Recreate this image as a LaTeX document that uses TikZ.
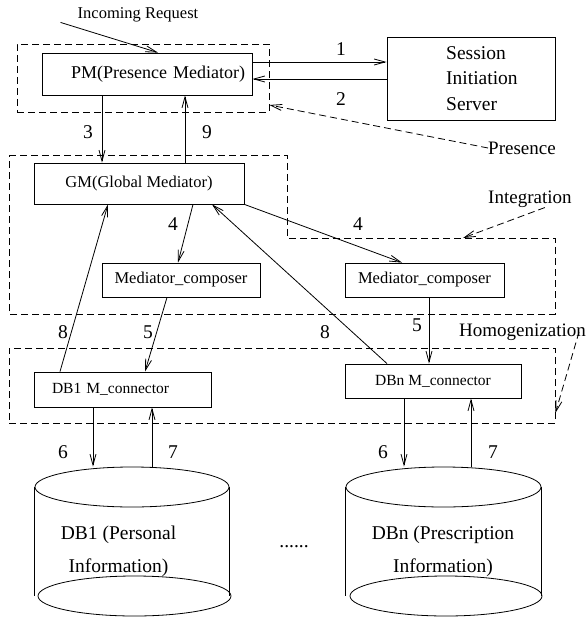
\documentclass[tikz,border=0pt]{standalone}
\usepackage{fontspec}
\setmainfont{Liberation Serif}
\usetikzlibrary{arrows.meta}
\usetikzlibrary{positioning}
\usetikzlibrary{shapes.geometric}
\tikzset {
  % solid connector with an open head
  arr/.style = {
    draw = black,
    line width = 0.8pt,
    -{Straight Barb[length = 11pt, width = 6pt]}
  },
  % dashed pointer from a layer name to its layer
  darr/.style = {
    arr,
    dash pattern = on 7pt off 4pt
  },
  % dashed layer outline
  region/.style = {
    draw = black,
    line width = 0.8pt,
    dash pattern = on 7pt off 4pt,
    inner sep = 0
  }
}
\tikzset {
  module/.style = {
    draw = black,
    line width = 0.8pt,
    rectangle,
    inner sep = 0
  },
  % database disk
  disk/.style = {
    draw = black,
    line width = 0.8pt,
    ellipse,
    inner sep = 0
  },
  % step numbers
  num/.style = {
    inner sep = 0,
    font = \fontsize{19.5}{23}\selectfont
  },
  % layer names
  note/.style = {
    inner sep = 0,
    anchor = west,
    font = \fontsize{19}{23}\selectfont
  }
}

\begin{document}
\begin{tikzpicture}[x = 1pt, y = -1pt]
  \useasboundingbox (0,0) rectangle (587,617);

  % layers
  \node[region, minimum width = 252pt, minimum height = 68pt] (presence) at (143,78) {};
  \draw[region] (9,155) -- (287,155) -- (287,238) -- (555,238) -- (555,314) -- (9,314) -- cycle;
  \coordinate (integration-tip) at (463,238);
  \node[region, minimum width = 546pt, minimum height = 75pt] (homog) at (282,385.5) {};

  % modules
  \node[module, minimum width = 210pt, minimum height = 42pt, text width = 196pt,
    align = right, font = \fontsize{18}{22}\selectfont] (pm) at (147,74) {PM(Presence Mediator)};
  \node[module, minimum width = 168pt, minimum height = 83pt] (sis) at (471,78.5) {};
  \node[anchor = west, inner sep = 0, align = left, font = \fontsize{19.5}{25.5}\selectfont]
    (sis-text) at ([xshift = -25pt]sis.center) {Session\\Initiation\\Server};
  \node[module, minimum width = 210pt, minimum height = 41pt,
    font = \fontsize{16.5}{20}\selectfont] (gm) at (139,183.5) {GM(Global Mediator)};
  \node[module, minimum width = 158pt, minimum height = 34pt,
    font = \fontsize{16.5}{20}\selectfont] (mc-one) at (181,280) {Mediator\_composer};
  \node[module, minimum width = 159pt, minimum height = 34pt,
    font = \fontsize{16.5}{20}\selectfont] (mc-two) at (424.5,280) {Mediator\_composer};
  \node[module, minimum width = 177pt, minimum height = 35pt, text width = 141pt, align = left,
    font = \fontsize{15.5}{19}\selectfont] (db1-conn) at (122.5,389.5) {DB1 M\_connector};
  \node[module, minimum width = 176pt, minimum height = 34pt,
    font = \fontsize{15.5}{19}\selectfont] (dbn-conn) at (433,381) {DBn M\_connector};

  % databases
  \node[disk, minimum width = 194pt, minimum height = 40pt] (db1-top) at (132,487) {};
  \node[disk, minimum width = 193pt, minimum height = 40pt] (db1-bottom) at (134.5,596) {};
  \draw[line width = 0.8pt] (db1-top.west) -- (db1-top.west |- db1-bottom.center);
  \draw[line width = 0.8pt] (db1-top.east) -- (db1-top.east |- db1-bottom.center);
  \node[inner sep = 0, align = center, font = \fontsize{19.5}{33}\selectfont]
    (db1-label) at (118.5,551.5) {DB1 (Personal\\Information)};
  \node[disk, minimum width = 195pt, minimum height = 40pt] (dbn-top) at (443.5,487) {};
  \node[disk, minimum width = 192pt, minimum height = 40pt] (dbn-bottom) at (446,596) {};
  \draw[line width = 0.8pt] (dbn-top.west) -- (dbn-top.west |- dbn-bottom.center);
  \draw[line width = 0.8pt] (dbn-top.east) -- (dbn-top.east |- dbn-bottom.center);
  \node[inner sep = 0, align = center, font = \fontsize{19.5}{33}\selectfont]
    (dbn-label) at (443,551.5) {DBn (Prescription\\Information)};
  \node[num] (dots) at (294,547) {......};

  % layer names
  \node[inner sep = 0, font = \fontsize{16.5}{20}\selectfont] (incoming) at (138,15) {Incoming Request};
  \node[note] (presence-label) at (488,148) {Presence};
  \node[note] (integration-label) at (488,199) {Integration};
  \node[note, anchor = east] (homog-label) at (586,332) {Homogenization};

  % connectors
  \draw[arr] ([xshift = -17pt]incoming.south west) -- ([xshift = 11pt]pm.north);
  \draw[arr] ([yshift = 12pt]pm.east) -- ([yshift = 12pt]pm.east -| sis.west);
  \draw[arr] ([yshift = -5pt]pm.east -| sis.west) -- ([yshift = -5pt]pm.east);
  \draw[arr] ([xshift = -45pt]pm.south) -- ([xshift = -45pt]pm.south |- gm.north);
  \draw[arr] ([xshift = 38pt]pm.south |- gm.north) -- ([xshift = 38pt]pm.south);
  \draw[arr] ([xshift = 54pt]gm.south) -- ([xshift = -3pt]mc-one.north);
  \draw[arr] (gm.south east) -- ([xshift = -22.5pt]mc-two.north);
  \draw[arr] ([xshift = -14pt]mc-one.south) -- ([xshift = 22.5pt]db1-conn.north);
  \draw[arr] ([xshift = 4.5pt]mc-two.south) -- ([xshift = -4pt]dbn-conn.north);
  \draw[arr] ([xshift = -62.5pt]db1-conn.north) -- ([xshift = -31pt]gm.south);
  \draw[arr] ([xshift = -46pt]dbn-conn.north) -- ([xshift = 73pt]gm.south);
  \draw[arr] ([xshift = -29.5pt]db1-conn.south) -- ([xshift = -29.5pt]db1-conn.south |- db1-top.north);
  \draw[arr] ([xshift = 29.5pt]db1-conn.south |- db1-top.north) -- ([xshift = 29.5pt]db1-conn.south);
  \draw[arr] ([xshift = -29pt]dbn-conn.south) -- ([xshift = -29pt]dbn-conn.south |- dbn-top.north);
  \draw[arr] ([xshift = 38pt]dbn-conn.south |- dbn-top.north) -- ([xshift = 38pt]dbn-conn.south);
  \draw[darr] (presence-label.west) -- ([yshift = -27pt]presence.east);
  \draw[darr] ([xshift = 15pt]integration-label.south) -- (integration-tip);
  \draw[darr] ([xshift = -7pt]homog-label.east) -- ([yshift = -27.5pt]homog.east);

  % step numbers
  \node[num] (lbl-1) at (341,49) {1};
  \node[num] (lbl-2) at (341,99) {2};
  \node[num] (lbl-3) at (88,132) {3};
  \node[num] (lbl-9) at (207,132) {9};
  \node[num] (lbl-4a) at (173,224) {4};
  \node[num] (lbl-4b) at (358,224) {4};
  \node[num] (lbl-8a) at (63,332) {8};
  \node[num] (lbl-5a) at (148,332) {5};
  \node[num] (lbl-8b) at (325,332) {8};
  \node[num] (lbl-5b) at (417,325) {5};
  \node[num] (lbl-6a) at (63,452) {6};
  \node[num] (lbl-7a) at (173,452) {7};
  \node[num] (lbl-6b) at (383,452) {6};
  \node[num] (lbl-7b) at (493,452) {7};
\end{tikzpicture}
\end{document}
